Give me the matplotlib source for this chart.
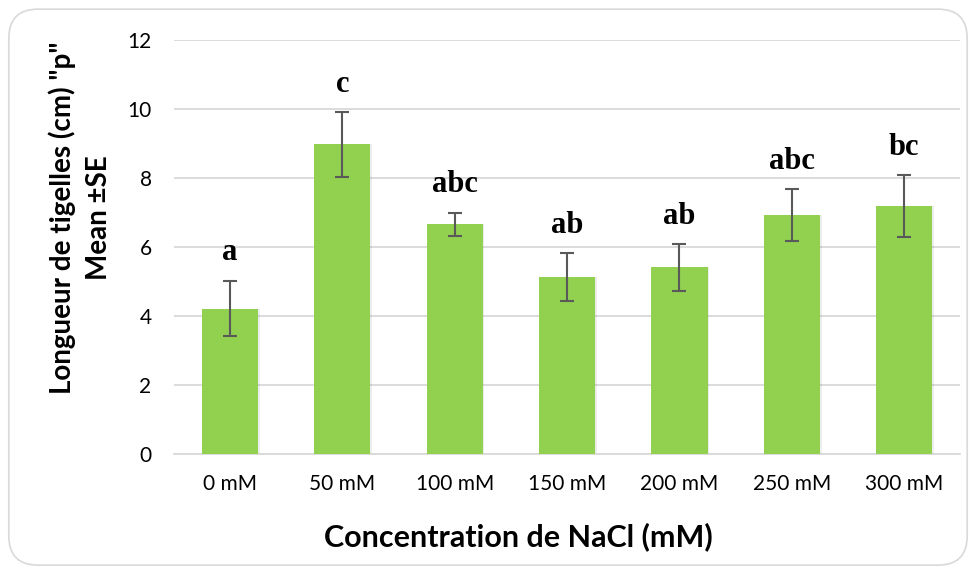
import matplotlib
matplotlib.use("Agg")
import matplotlib.pyplot as plt
from matplotlib.patches import FancyBboxPatch
import numpy as np

# data
concentrations = ['0 mM', '50 mM', '100 mM', '150 mM', '200 mM', '250 mM', '300 mM']
mean_length = [4.22, 8.98, 6.66, 5.13, 5.41, 6.92, 7.20]
se_length = [0.81, 0.94, 0.34, 0.70, 0.67, 0.75, 0.90]
groups = ['a', 'c', 'abc', 'ab', 'ab', 'abc', 'bc']

plt.rcParams['font.family'] = ['Lato', 'DejaVu Sans']

fig = plt.figure(figsize=(9.76, 5.72), dpi=100)
ax = fig.add_axes([0.178, 0.206, 0.806, 0.724])

# rounded frame round the whole chart
frame = FancyBboxPatch((0.009, 0.012), 0.982, 0.972,
                       boxstyle="round,pad=0,rounding_size=0.03",
                       transform=fig.transFigure, facecolor='none',
                       edgecolor='#d9d9d9', linewidth=1.2, mutation_aspect=976 / 572)
fig.patches.append(frame)

x = np.arange(len(concentrations))

# faint shadow behind the bars
ax.bar(x + 0.015, mean_length, width=0.5, color='#000000', alpha=0.07, zorder=2)
ax.bar(x, mean_length, width=0.5, color='#92d050', zorder=3)
ax.errorbar(x, mean_length, yerr=se_length, fmt='none', ecolor='#595959',
            elinewidth=1.5, capsize=5, capthick=1.5, zorder=4)

# letters of the mean comparison test
for xi, m, s, g in zip(x, mean_length, se_length, groups):
    ax.text(xi, m + s + 0.38, g, ha='center', va='bottom',
            family='Liberation Serif', fontweight='bold', fontsize=22)

ax.set_xlim(-0.5, len(concentrations) - 0.5)
ax.set_ylim(0, 12)
ax.set_yticks(range(0, 13, 2))
ax.set_xticks(x)
ax.set_xticklabels(concentrations)
ax.tick_params(axis='both', length=0, labelsize=15, colors='#000000')
ax.tick_params(axis='y', pad=16)
ax.tick_params(axis='x', pad=14)
ax.grid(axis='y', color='#d9d9d9', linewidth=1.3, zorder=0)
ax.set_axisbelow(True)
for sp in ['top', 'right', 'left']:
    ax.spines[sp].set_visible(False)
ax.spines['bottom'].set_color('#d9d9d9')
ax.spines['bottom'].set_linewidth(1.3)

fig.text(0.082, 0.619, 'Longueur de tigelles (cm) "p"\nMean ±SE', rotation=90,
         ha='center', va='center', fontsize=20, fontweight='bold',
         linespacing=1.45)
fig.text(0.531, 0.061, 'Concentration de NaCl (mM)', ha='center', va='center',
         fontsize=22, fontweight='bold')

fig.savefig('out.png', dpi=100)
